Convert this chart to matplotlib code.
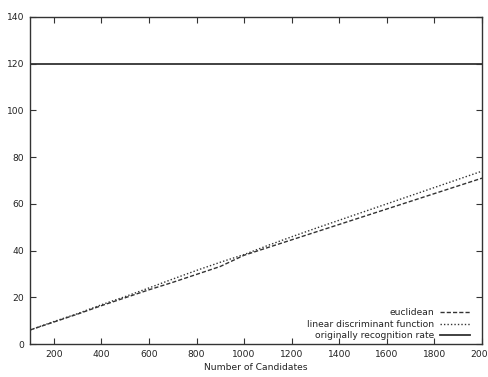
import matplotlib
matplotlib.use('Agg')
import matplotlib.pyplot as plt

plt.rcParams['font.family'] = 'DejaVu Sans'
plt.rcParams['font.size'] = 6.6

candidates = [100, 200, 300, 400, 500, 600, 700, 800, 900, 1000,
              1100, 1200, 1300, 1400, 1500, 1600, 1700, 1800, 1900, 2000]
euclidean = [6.0, 9.4, 12.8, 16.4, 19.8, 23.2, 26.4, 29.8, 33.2, 38.0,
             41.3, 44.6, 47.9, 51.2, 54.5, 57.8, 61.1, 64.4, 67.7, 71.0]
lda = [6.0, 9.6, 13.0, 16.8, 20.3, 24.0, 27.8, 31.5, 35.0, 38.3,
       42.2, 45.9, 49.5, 53.0, 56.5, 60.0, 63.5, 67.0, 70.5, 74.0]
original_rate = [120.0] * len(candidates)

fig = plt.figure(figsize=(4.89, 3.77), dpi=100)
ax = fig.add_axes([30 / 489, 1 - 344 / 377, 452 / 489, 327 / 377])

ink = '#333333'
ax.plot(candidates, euclidean, color=ink, linestyle=(0, (3, 1.5)), linewidth=1.0,
        label='euclidean')
ax.plot(candidates, lda, color=ink, linestyle=(0, (1, 1.5)), linewidth=1.0,
        label='linear discriminant function')
ax.plot(candidates, original_rate, color=ink, linestyle='-', linewidth=1.3,
        label='originally recognition rate')

ax.set_xlim(100, 2000)
ax.set_ylim(0, 140)
ax.set_xticks(range(200, 2001, 200))
ax.set_yticks(range(0, 141, 20))
ax.tick_params(direction='in', top=True, right=True, length=4, width=0.8,
               colors=ink, labelcolor='#222222', pad=4)
for s in ax.spines.values():
    s.set_color(ink)
    s.set_linewidth(1.0)

ax.set_xlabel('Number of Candidates', color='#222222', labelpad=3)

leg = ax.legend(loc='lower right', bbox_to_anchor=(0.973, 0.012), frameon=False,
                markerfirst=False, handlelength=3.3, labelspacing=0.25,
                handletextpad=0.6, borderaxespad=0, borderpad=0, fontsize=6.6)
for t in leg.get_texts():
    t.set_color('#222222')

fig.savefig('out.png', dpi=100, facecolor='white')
